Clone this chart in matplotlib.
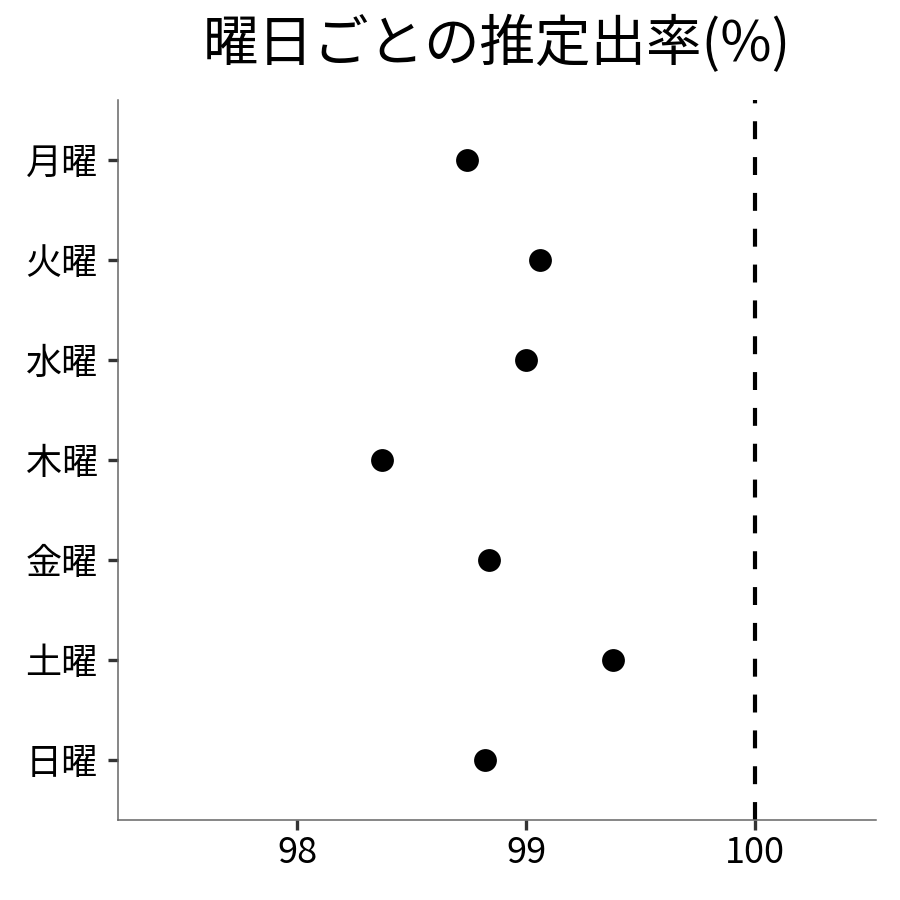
import numpy as np
import matplotlib
matplotlib.use("Agg")
import matplotlib.pyplot as plt

plt.rcParams['font.family'] = ['Noto Sans CJK JP', 'DejaVu Sans']

# 曜日ごとのデータ
days = ['月曜', '火曜', '水曜', '木曜', '金曜', '土曜', '日曜']
rate = [98.74, 99.06, 99.00, 98.37, 98.84, 99.38, 98.82]
ref_line = 100
x_ticks = [98, 99, 100]

fig = plt.figure(figsize=(9, 9), dpi=100)
ax = fig.add_axes([118/900, 80/900, 758/900, 720/900])

ypos = np.arange(len(days))
ax.scatter(rate, ypos, s=270, color='black', zorder=3, linewidths=0)
ax.axvline(ref_line, color='black', lw=3, linestyle=(0, (4.3, 4.3)), zorder=2)

ax.set_xlim(97.218, 100.528)
ax.set_ylim(len(days) - 1 + 0.6, -0.6)
ax.set_yticks(ypos)
ax.set_yticklabels(days)
ax.set_xticks(x_ticks)
ax.set_xticklabels([str(t) for t in x_ticks])

for s in ['top', 'right']:
    ax.spines[s].set_visible(False)
for s in ['left', 'bottom']:
    ax.spines[s].set_color('#666666')
    ax.spines[s].set_linewidth(1.1)

ax.tick_params(axis='both', colors='#333333', length=7.5, width=2.4,
               labelsize=26, labelcolor='black')
ax.tick_params(axis='y', pad=7)
ax.tick_params(axis='x', pad=3)

fig.text((118 + 876) / 2 / 900, 1 - 45/900, '曜日ごとの推定出率(%)',
         ha='center', va='center', fontsize=40)

fig.savefig('out.png', dpi=100, facecolor='white')
